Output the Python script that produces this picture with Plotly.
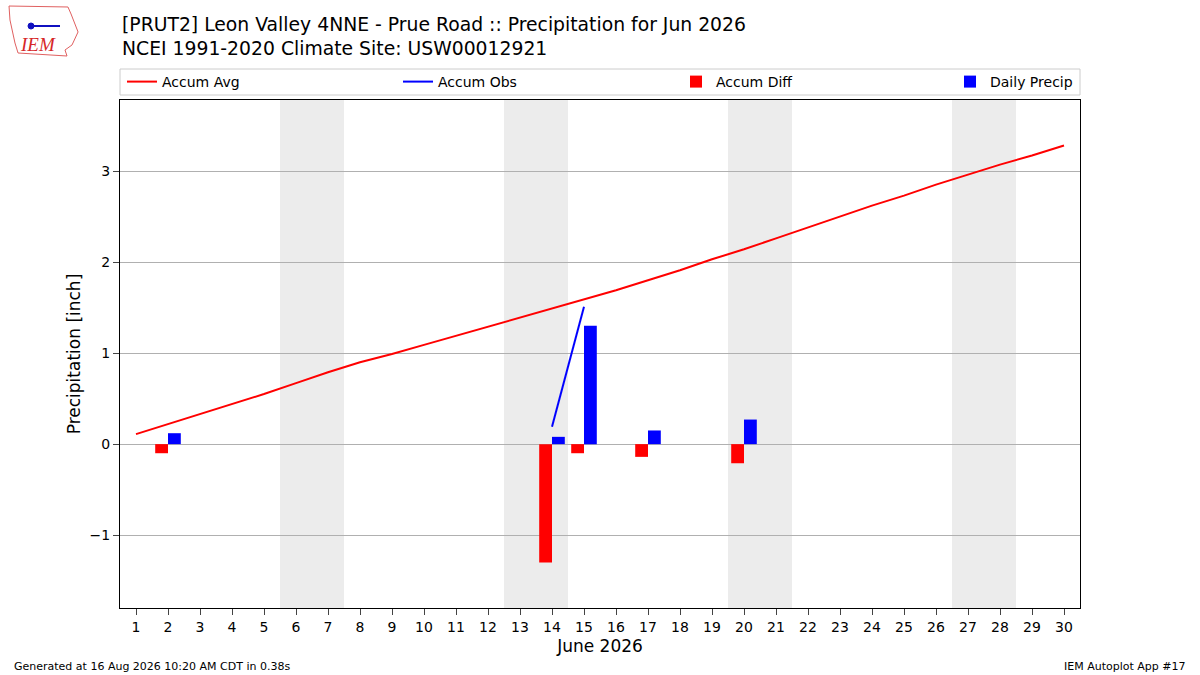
import plotly.graph_objects as go

# dias del mes
dias = list(range(1, 31))
accum_avg = [0.11, 0.22, 0.33, 0.44, 0.55, 0.67, 0.79, 0.90, 0.99, 1.09,
             1.19, 1.29, 1.39, 1.49, 1.59, 1.69, 1.80, 1.91, 2.03, 2.14,
             2.26, 2.38, 2.50, 2.62, 2.73, 2.85, 2.96, 3.07, 3.17, 3.28]

obs_dias = [14, 15]
accum_obs = [0.19, 1.51]

lluvia_dias = [2, 14, 15, 17, 20]
daily_precip = [0.12, 0.08, 1.30, 0.15, 0.27]
accum_diff = [-0.10, -1.30, -0.10, -0.14, -0.21]

fines_semana = [(6, 7), (13, 14), (20, 21), (27, 28)]

y_ticks = [-1, 0, 1, 2, 3]
y_labels = ["\u22121", "0", "1", "2", "3"]

# area del grafico en pixeles
L, R, T, B = 120, 1080, 100, 608


def px(x, y):
    # pixel -> coordenadas paper
    return (x - L) / (R - L), (B - y) / (B - T)


fig = go.Figure()

fig.add_trace(go.Scatter(x=dias, y=accum_avg, mode="lines", name="Accum Avg",
                         line=dict(color="red", width=2), legend="legend"))
fig.add_trace(go.Scatter(x=obs_dias, y=accum_obs, mode="lines", name="Accum Obs",
                         line=dict(color="blue", width=2), legend="legend2"))
fig.add_trace(go.Bar(x=lluvia_dias, y=accum_diff, name="Accum Diff", width=0.4,
                     offset=-0.4, marker=dict(color="red", line=dict(width=0)),
                     legend="legend3"))
fig.add_trace(go.Bar(x=lluvia_dias, y=daily_precip, name="Daily Precip", width=0.4,
                     offset=0, marker=dict(color="blue", line=dict(width=0)),
                     legend="legend4"))

for a, b in fines_semana:
    fig.add_vrect(x0=a - 0.5, x1=b + 0.5, fillcolor="#ececec", line_width=0, layer="below")

# una leyenda por serie, repartidas como en matplotlib (mode expand)
leyendas = {}
for i, xpos in enumerate([122, 398, 676, 950]):
    lx, ly = px(xpos, 82)
    leyendas["legend" if i == 0 else "legend%d" % (i + 1)] = dict(
        orientation="h", x=lx, y=ly, xanchor="left", yanchor="middle",
        borderwidth=0, bgcolor="rgba(0,0,0,0)", font=dict(size=14))

fig.update_layout(
    width=1200, height=675,
    plot_bgcolor="white", paper_bgcolor="white",
    font=dict(family="DejaVu Sans", size=14, color="black"),
    margin=dict(l=L, r=1200 - R, t=T, b=675 - B, autoexpand=False),
    barmode="overlay",
    showlegend=True,
    xaxis=dict(range=[0.5, 30.5], tickmode="array", tickvals=dias,
               ticks="outside", ticklen=6, showgrid=False, showline=True,
               linecolor="black", mirror=True, zeroline=False,
               title=dict(text="June 2026", font=dict(size=17), standoff=6)),
    yaxis=dict(range=[-1.8, 3.78], tickmode="array", tickvals=y_ticks, ticktext=y_labels,
               ticks="outside", ticklen=6, showgrid=True, gridcolor="#b0b0b0",
               showline=True, linecolor="black", mirror=True, zeroline=False,
               title=dict(text="Precipitation [inch]", font=dict(size=17), standoff=4)),
    **leyendas,
)

# marco de la leyenda
bx0, by0 = px(120, 95)
bx1, by1 = px(1080, 69)
fig.add_shape(type="rect", x0=bx0, y0=by0, x1=bx1, y1=by1, xref="paper", yref="paper",
              line=dict(color="#cccccc", width=1), fillcolor="white", layer="below")

tx, ty = px(120, 12)
fig.add_annotation(text="[PRUT2] Leon Valley 4NNE - Prue Road :: Precipitation for Jun 2026<br>"
                        "NCEI 1991-2020 Climate Site: USW00012921",
                   xref="paper", yref="paper", x=tx, y=ty, xanchor="left", yanchor="top",
                   align="left", showarrow=False, font=dict(size=18.8))
gx, gy = px(12, 658)
fig.add_annotation(text="Generated at 16 Aug 2026 10:20 AM CDT in 0.38s",
                   xref="paper", yref="paper", x=gx, y=gy, xanchor="left", yanchor="top",
                   showarrow=False, font=dict(size=11))
ax_, ay_ = px(1188, 658)
fig.add_annotation(text="IEM Autoplot App #17",
                   xref="paper", yref="paper", x=ax_, y=ay_, xanchor="right", yanchor="top",
                   showarrow=False, font=dict(size=11))

# logo IEM aproximado
contorno = [(9, 6), (68, 7), (71, 14), (78, 32), (72, 45), (65, 50), (67, 56),
            (18, 53), (15, 43), (10, 20)]
path = "M " + " L ".join("%.4f %.4f" % px(x, y) for x, y in contorno) + " Z"
fig.add_shape(type="path", path=path, xref="paper", yref="paper",
              line=dict(color="#e06060", width=1))
x0, y0 = px(31, 26)
x1, y1 = px(60, 26)
fig.add_shape(type="line", x0=x0, y0=y0, x1=x1, y1=y1, xref="paper", yref="paper",
              line=dict(color="#1010c0", width=2))
c0x, c0y = px(28, 23)
c1x, c1y = px(34, 29)
fig.add_shape(type="circle", x0=c0x, y0=c0y, x1=c1x, y1=c1y, xref="paper", yref="paper",
              fillcolor="#1010c0", line=dict(color="#1010c0", width=1))
lx, ly = px(38, 45)
fig.add_annotation(text="<i>IEM</i>", xref="paper", yref="paper", x=lx, y=ly,
                   xanchor="center", yanchor="middle", showarrow=False,
                   font=dict(family="Liberation Serif", size=19, color="#d62728"))

fig.write_html("out.html", config={"displayModeBar": False},
               post_script="document.body.style.margin='0';")
